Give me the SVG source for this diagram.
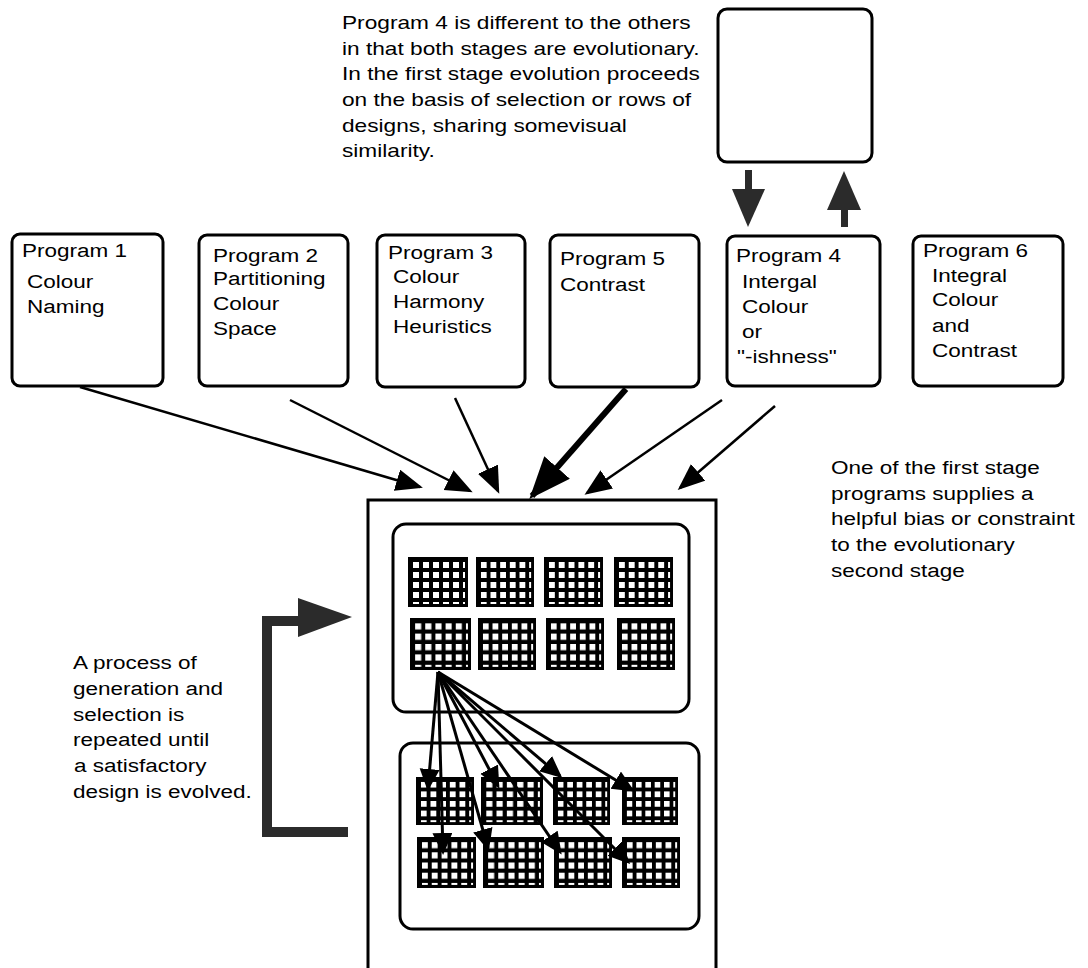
<svg xmlns="http://www.w3.org/2000/svg" width="1088" height="968" viewBox="0 0 1088 968">
  <style>
    .box { fill: #fff; stroke: #000; stroke-width: 3; }
    .t { font-family: "Liberation Sans", Arial, Helvetica, sans-serif; font-size: 18px; fill: #000; }
    .ln { stroke: #000; stroke-width: 2.5; fill: none; }
    .thick { stroke: #000; stroke-width: 6; fill: none; }
    .gl { stroke: #000; stroke-width: 3; fill: none; }
    .gray { fill: #2b2b2b; }
  </style>
  <defs>
    <marker id="ah" markerUnits="userSpaceOnUse" markerWidth="30" markerHeight="24" refX="24" refY="11" orient="auto">
      <path d="M0,0 L27,11 L0,22 z" fill="#000"/>
    </marker>
    <marker id="ahBig" markerUnits="userSpaceOnUse" markerWidth="46" markerHeight="36" refX="38" refY="17" orient="auto">
      <path d="M0,0 L42,17 L0,34 z" fill="#000"/>
    </marker>
    <marker id="ahSm" markerUnits="userSpaceOnUse" markerWidth="26" markerHeight="22" refX="19" refY="10" orient="auto">
      <path d="M0,0 L22,10 L0,20 z" fill="#000"/>
    </marker>
    <pattern id="cells" patternUnits="userSpaceOnUse" x="5" y="5" width="10" height="10">
      <rect x="0" y="0" width="6" height="6" fill="#fff"/>
    </pattern>
    <!-- one design thumbnail: black frame with a lattice of white cells -->
    <symbol id="grid" viewBox="0 0 60 50" preserveAspectRatio="none">
      <rect x="0" y="0" width="60" height="50" fill="#000"/>
      <rect x="5" y="5" width="52" height="42" fill="url(#cells)"/>
    </symbol>
  </defs>

  <rect width="1088" height="968" fill="#fff"/>

  <!-- explanatory notes -->
  <g id="note-top" class="t">
    <text transform="translate(342,29) scale(1.26,1)">Program 4 is different to the others</text>
    <text transform="translate(342,55) scale(1.26,1)">in that both stages are evolutionary.</text>
    <text transform="translate(342,80) scale(1.26,1)">In the first stage evolution proceeds</text>
    <text transform="translate(342,106) scale(1.26,1)">on the basis of selection or rows of</text>
    <text transform="translate(342,132) scale(1.26,1)">designs, sharing somevisual</text>
    <text transform="translate(342,157) scale(1.26,1)">similarity.</text>
  </g>
  <g id="note-right" class="t">
    <text transform="translate(831,474) scale(1.25,1)">One of the first stage</text>
    <text transform="translate(831,500) scale(1.25,1)">programs supplies a</text>
    <text transform="translate(831,525) scale(1.25,1)">helpful bias or constraint</text>
    <text transform="translate(831,551) scale(1.25,1)">to the evolutionary</text>
    <text transform="translate(831,577) scale(1.25,1)">second stage</text>
  </g>
  <g id="note-left" class="t">
    <text transform="translate(73,669) scale(1.25,1)">A process of</text>
    <text transform="translate(73,695) scale(1.25,1)">generation and</text>
    <text transform="translate(73,721) scale(1.25,1)">selection is</text>
    <text transform="translate(73,746) scale(1.25,1)">repeated until</text>
    <text transform="translate(74,772) scale(1.25,1)">a satisfactory</text>
    <text transform="translate(73,798) scale(1.25,1)">design is evolved.</text>
  </g>

  <!-- first-stage program boxes -->
  <g id="program1">
    <rect class="box" x="12" y="234" width="151" height="152" rx="8"/>
    <g class="t">
      <text transform="translate(22,257) scale(1.25,1)">Program 1</text>
      <text transform="translate(27,288) scale(1.25,1)">Colour</text>
      <text transform="translate(27,313) scale(1.25,1)">Naming</text>
    </g>
  </g>
  <g id="program2">
    <rect class="box" x="199" y="235" width="149" height="151" rx="8"/>
    <g class="t">
      <text transform="translate(213,262) scale(1.25,1)">Program 2</text>
      <text transform="translate(213,285) scale(1.25,1)">Partitioning</text>
      <text transform="translate(213,310) scale(1.25,1)">Colour</text>
      <text transform="translate(213,335) scale(1.25,1)">Space</text>
    </g>
  </g>
  <g id="program3">
    <rect class="box" x="377" y="235" width="148" height="152" rx="8"/>
    <g class="t">
      <text transform="translate(388,259) scale(1.25,1)">Program 3</text>
      <text transform="translate(393,283) scale(1.25,1)">Colour</text>
      <text transform="translate(393,308) scale(1.25,1)">Harmony</text>
      <text transform="translate(393,333) scale(1.25,1)">Heuristics</text>
    </g>
  </g>
  <g id="program5">
    <rect class="box" x="550" y="235" width="149" height="152" rx="8"/>
    <g class="t">
      <text transform="translate(560,265) scale(1.25,1)">Program 5</text>
      <text transform="translate(560,291) scale(1.25,1)">Contrast</text>
    </g>
  </g>
  <g id="program4">
    <rect class="box" x="727" y="236" width="153" height="150" rx="8"/>
    <g class="t">
      <text transform="translate(736,262) scale(1.25,1)">Program 4</text>
      <text transform="translate(742,288) scale(1.25,1)">Intergal</text>
      <text transform="translate(742,313) scale(1.25,1)">Colour</text>
      <text transform="translate(742,338) scale(1.25,1)">or</text>
      <text transform="translate(737,363) scale(1.25,1)">"-ishness"</text>
    </g>
  </g>
  <g id="program6">
    <rect class="box" x="913" y="236" width="150" height="150" rx="8"/>
    <g class="t">
      <text transform="translate(923,257) scale(1.25,1)">Program 6</text>
      <text transform="translate(932,282) scale(1.25,1)">Integral</text>
      <text transform="translate(932,306) scale(1.25,1)">Colour</text>
      <text transform="translate(932,332) scale(1.25,1)">and</text>
      <text transform="translate(932,357) scale(1.25,1)">Contrast</text>
    </g>
  </g>

  <!-- evolutionary first stage of program 4 -->
  <g id="stage-box">
    <rect class="box" x="718" y="9" width="154" height="153" rx="9"/>
  </g>

  <!-- second stage: population container -->
  <g id="population">
    <path d="M368,968 L368,500 L716,500 L716,968" fill="none" stroke="#000" stroke-width="3"/>
  </g>
  <g id="parents">
    <rect class="box" x="393" y="524" width="296" height="188" rx="13"/>
    <use href="#grid" x="408" y="557" width="60" height="50"/>
    <use href="#grid" x="476" y="557" width="58" height="50"/>
    <use href="#grid" x="544" y="557" width="59" height="50"/>
    <use href="#grid" x="614" y="557" width="59" height="50"/>
    <use href="#grid" x="410" y="618" width="61" height="52"/>
    <use href="#grid" x="478" y="618" width="58" height="52"/>
    <use href="#grid" x="546" y="618" width="58" height="52"/>
    <use href="#grid" x="617" y="618" width="58" height="52"/>
  </g>
  <g id="offspring">
    <rect class="box" x="400" y="743" width="299" height="186" rx="13"/>
    <use href="#grid" x="416" y="777" width="58" height="48"/>
    <use href="#grid" x="481" y="777" width="62" height="48"/>
    <use href="#grid" x="553" y="777" width="57" height="48"/>
    <use href="#grid" x="622" y="777" width="56" height="48"/>
    <use href="#grid" x="417" y="837" width="59" height="51"/>
    <use href="#grid" x="483" y="837" width="61" height="51"/>
    <use href="#grid" x="554" y="837" width="58" height="51"/>
    <use href="#grid" x="622" y="837" width="58" height="51"/>
  </g>

  <!-- connectors -->
  <g id="connectors">
    <line class="ln" x1="80" y1="387" x2="420" y2="487" marker-end="url(#ah)"/>
    <line class="ln" x1="290" y1="400" x2="470" y2="491" marker-end="url(#ah)"/>
    <line class="ln" x1="455" y1="398" x2="498" y2="491" marker-end="url(#ah)"/>
    <line class="thick" x1="626" y1="389" x2="532" y2="496" marker-end="url(#ahBig)"/>
    <line class="ln" x1="722" y1="400" x2="587" y2="493" marker-end="url(#ah)"/>
    <line class="ln" x1="775" y1="406" x2="680" y2="488" marker-end="url(#ah)"/>

    <!-- exchange with the first-stage box -->
    <rect class="gray" x="745" y="170" width="7" height="22"/>
    <polygon class="gray" points="732,189 765,189 748,227"/>
    <polygon class="gray" points="844,171 861,210 827,210"/>
    <rect class="gray" x="841" y="208" width="7" height="19"/>

    <!-- repeat loop -->
    <path class="gray" d="M262,616 L300,616 L300,626 L272,626 L272,827 L348,827 L348,837 L262,837 z"/>
    <polygon class="gray" points="298,598 352,617 298,637"/>

    <!-- parent to offspring -->
    <line class="gl" x1="438" y1="672" x2="428" y2="788" marker-end="url(#ahSm)"/>
    <line class="gl" x1="438" y1="672" x2="443" y2="852" marker-end="url(#ahSm)"/>
    <line class="gl" x1="438" y1="672" x2="488" y2="848" marker-end="url(#ahSm)"/>
    <line class="gl" x1="438" y1="672" x2="498" y2="786" marker-end="url(#ahSm)"/>
    <line class="gl" x1="438" y1="672" x2="560" y2="852" marker-end="url(#ahSm)"/>
    <line class="gl" x1="438" y1="672" x2="560" y2="776" marker-end="url(#ahSm)"/>
    <line class="gl" x1="438" y1="672" x2="628" y2="862" marker-end="url(#ahSm)"/>
    <line class="gl" x1="438" y1="672" x2="632" y2="790" marker-end="url(#ahSm)"/>
  </g>
</svg>
